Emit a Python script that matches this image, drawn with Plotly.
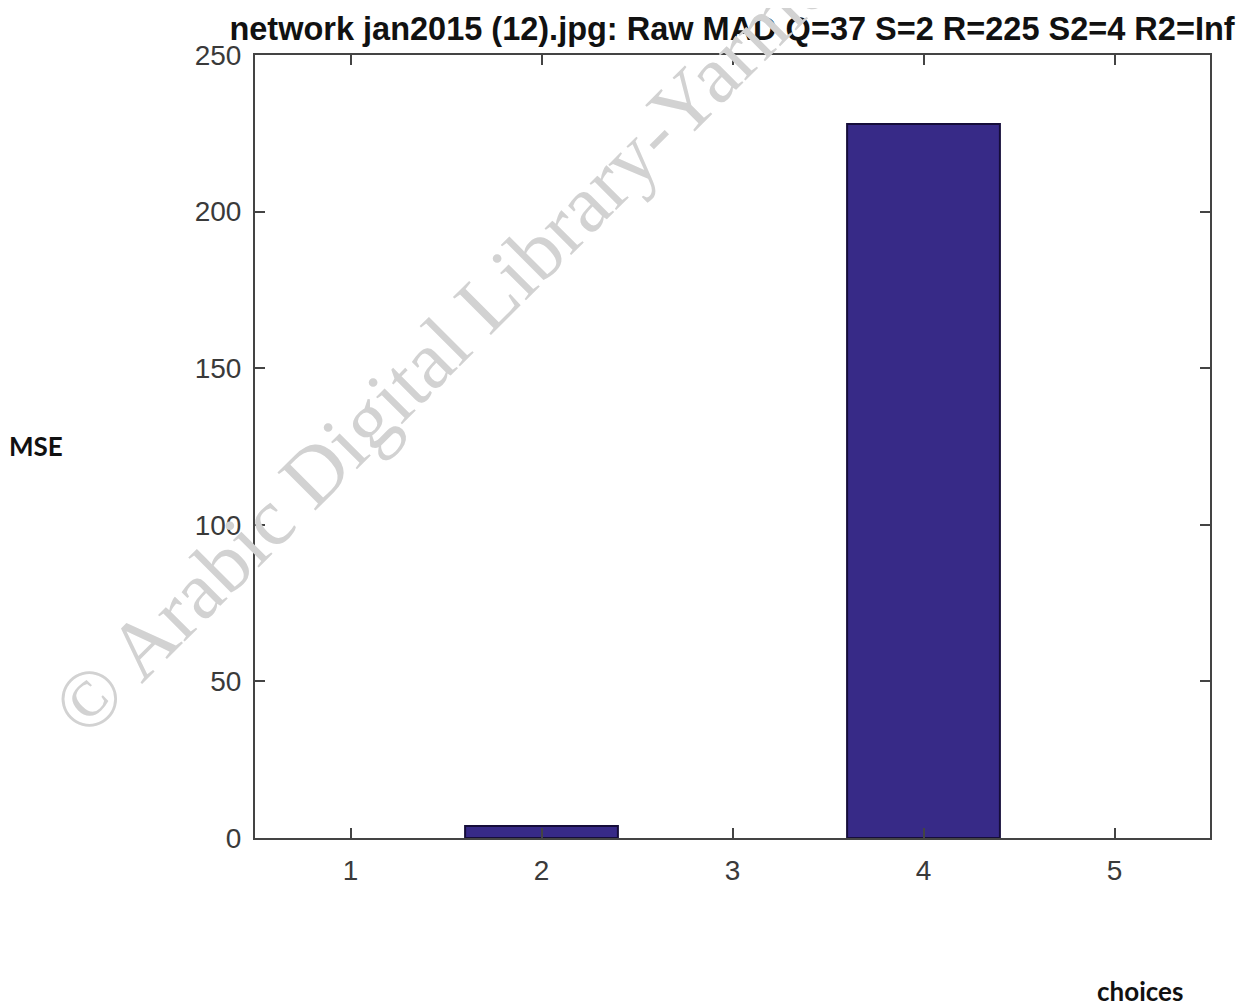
import plotly.graph_objects as go

categories = [1, 2, 3, 4, 5]
mse_values = [0, 3.8, 0, 228, 0]
y_ticks = [0, 50, 100, 150, 200, 250]
title_text = "network jan2015 (12).jpg: Raw MAD Q=37 S=2 R=225 S2=4 R2=Inf"
watermark = "© Arabic Digital Library-Yarmouk University"

W, H = 1260, 1006
OFF = 8  # page body margin offset
L, R, T, B = 255 - OFF, 1260 - 1210 + OFF, 55 - OFF, 1006 - 838 + OFF

fig = go.Figure()
fig.add_trace(go.Bar(
    x=categories, y=mse_values, width=0.8,
    marker=dict(color="#372a87",
                line=dict(color="#150d3a", width=[2 if v > 0 else 0 for v in mse_values])),
))

axis_common = dict(
    showline=True, linecolor="#444444", linewidth=2, mirror="ticks",
    ticks="inside", ticklen=10, tickcolor="#444444", tickwidth=2,
    showgrid=False, zeroline=False,
    tickfont=dict(family="Liberation Sans, Arial", size=28, color="#3a3a3a"),
)

fig.update_layout(
    width=W, height=H,
    margin=dict(l=L, r=R, t=T, b=B),
    paper_bgcolor="white", plot_bgcolor="white",
    showlegend=False,
    title=dict(text=title_text, x=(732 - OFF) / W, xanchor="center", y=1 - (29 - OFF) / H, yanchor="middle",
               font=dict(family="Liberation Sans, Arial", size=32.5, color="#111111", weight="bold")),
    xaxis=dict(range=[0.5, 5.5], tickvals=categories, ticklabelstandoff=6, **axis_common),
    yaxis=dict(range=[0, 250], tickvals=y_ticks, ticklabelstandoff=6, **axis_common),
)

plot_w = W - L - R
plot_h = H - T - B

def px_to_paper(px, py):
    # px, py in reference screen pixels
    return (px - OFF - L) / plot_w, (H - B - (py - OFF)) / plot_h

ax, ay = px_to_paper(36, 446)
fig.add_annotation(text="<b>MSE</b>", x=ax, y=ay, xref="paper", yref="paper", showarrow=False,
                   xanchor="center", yanchor="middle",
                   font=dict(family="Lato, Open Sans", size=26, color="#111111"))
cx, cy = px_to_paper(1140, 991)
fig.add_annotation(text="<b>choices</b>", x=cx, y=cy, xref="paper", yref="paper", showarrow=False,
                   xanchor="center", yanchor="middle",
                   font=dict(family="Lato, Open Sans", size=26, color="#111111"))

wx, wy = px_to_paper(601, 187)
fig.add_annotation(text=watermark, x=wx, y=wy, xref="paper", yref="paper", showarrow=False,
                   xanchor="center", yanchor="middle", textangle=-45,
                   font=dict(family="Liberation Serif, DejaVu Serif", size=82, color="#d2d2d2"))

fig.write_html("out.html")
